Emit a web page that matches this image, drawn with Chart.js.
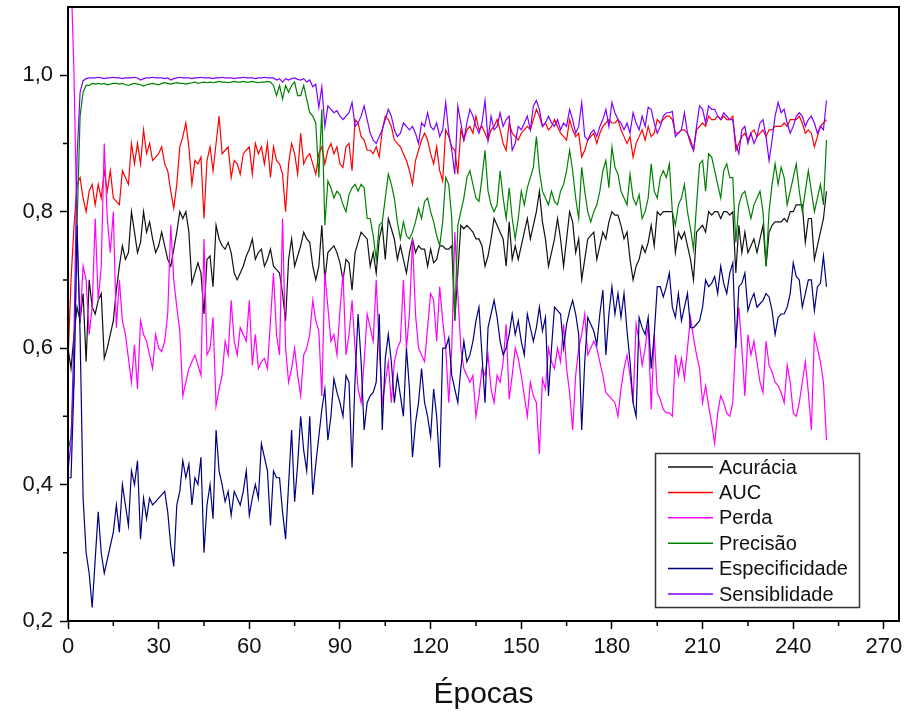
<!DOCTYPE html>
<html>
<head>
<meta charset="utf-8">
<title>Métricas por época</title>
<script src="https://cdn.jsdelivr.net/npm/chart.js@4.4.1/dist/chart.umd.min.js"></script>
<style>
  html, body { margin: 0; padding: 0; background: #fff; }
  canvas { display: block; }
</style>
</head>
<body>
<canvas id="chart" width="907" height="715"></canvas>
<script>
// Values, one per epoch (0..251)
const acuracia = [0.60,0.57,0.62,0.66,0.64,0.68,0.58,0.70,0.66,0.65,
  0.67,0.68,0.585,0.60,0.62,0.64,0.685,0.72,0.75,0.73,
  0.74,0.80,0.77,0.74,0.755,0.80,0.77,0.785,0.76,0.74,
  0.75,0.77,0.75,0.73,0.72,0.745,0.77,0.80,0.79,0.80,
  0.77,0.695,0.71,0.725,0.71,0.65,0.73,0.735,0.69,0.78,
  0.76,0.75,0.745,0.755,0.74,0.71,0.70,0.71,0.72,0.735,
  0.745,0.76,0.73,0.74,0.745,0.72,0.73,0.745,0.72,0.715,
  0.71,0.68,0.64,0.73,0.76,0.72,0.735,0.75,0.77,0.76,
  0.755,0.72,0.70,0.72,0.78,0.70,0.74,0.745,0.75,0.74,
  0.725,0.70,0.73,0.725,0.685,0.74,0.755,0.77,0.765,0.76,
  0.72,0.74,0.71,0.76,0.78,0.73,0.79,0.775,0.76,0.73,
  0.75,0.73,0.71,0.74,0.76,0.74,0.75,0.745,0.745,0.72,
  0.745,0.725,0.73,0.75,0.75,0.745,0.745,0.75,0.64,0.71,
  0.78,0.775,0.78,0.775,0.77,0.76,0.76,0.75,0.72,0.735,
  0.76,0.79,0.78,0.77,0.76,0.72,0.785,0.73,0.75,0.73,
  0.75,0.77,0.79,0.76,0.78,0.80,0.83,0.785,0.76,0.72,
  0.74,0.76,0.79,0.76,0.72,0.76,0.80,0.785,0.74,0.76,
  0.70,0.73,0.76,0.765,0.77,0.73,0.75,0.77,0.76,0.785,
  0.80,0.795,0.795,0.78,0.76,0.77,0.73,0.70,0.72,0.73,
  0.75,0.74,0.755,0.78,0.75,0.80,0.795,0.80,0.80,0.80,
  0.80,0.74,0.77,0.76,0.77,0.75,0.73,0.70,0.77,0.775,
  0.78,0.77,0.80,0.795,0.80,0.80,0.79,0.80,0.80,0.795,
  0.80,0.71,0.78,0.74,0.77,0.74,0.75,0.76,0.74,0.76,
  0.78,0.72,0.77,0.78,0.785,0.785,0.785,0.79,0.785,0.80,
  0.80,0.81,0.81,0.81,0.755,0.79,0.79,0.73,0.75,0.77,
  0.79,0.83];

const auc = [0.58,0.70,0.78,0.84,0.85,0.82,0.80,0.83,0.84,0.81,
  0.84,0.82,0.86,0.83,0.86,0.82,0.815,0.81,0.86,0.85,
  0.84,0.90,0.87,0.90,0.87,0.92,0.885,0.90,0.875,0.88,
  0.885,0.895,0.87,0.86,0.83,0.805,0.84,0.895,0.91,0.93,
  0.895,0.84,0.875,0.87,0.88,0.79,0.875,0.895,0.86,0.90,
  0.94,0.885,0.89,0.895,0.85,0.875,0.87,0.855,0.885,0.89,
  0.895,0.855,0.90,0.885,0.895,0.87,0.90,0.85,0.895,0.875,
  0.87,0.855,0.80,0.87,0.90,0.885,0.855,0.915,0.87,0.88,
  0.885,0.87,0.855,0.885,0.895,0.87,0.89,0.90,0.885,0.895,
  0.87,0.865,0.895,0.90,0.86,0.935,0.93,0.91,0.905,0.89,
  0.89,0.885,0.895,0.88,0.92,0.94,0.935,0.925,0.905,0.90,
  0.895,0.885,0.875,0.86,0.84,0.875,0.89,0.905,0.915,0.905,
  0.885,0.87,0.895,0.86,0.845,0.92,0.91,0.895,0.89,0.855,
  0.92,0.905,0.92,0.925,0.915,0.94,0.92,0.925,0.915,0.905,
  0.92,0.925,0.935,0.92,0.90,0.89,0.93,0.915,0.91,0.905,
  0.915,0.92,0.925,0.92,0.935,0.95,0.94,0.925,0.93,0.92,
  0.925,0.935,0.925,0.915,0.91,0.905,0.935,0.92,0.91,0.915,
  0.88,0.89,0.905,0.91,0.915,0.90,0.915,0.925,0.93,0.935,
  0.93,0.93,0.935,0.92,0.91,0.90,0.91,0.88,0.90,0.91,
  0.92,0.905,0.925,0.91,0.915,0.935,0.93,0.935,0.94,0.94,
  0.935,0.915,0.915,0.92,0.92,0.915,0.905,0.89,0.92,0.925,
  0.93,0.925,0.94,0.935,0.935,0.94,0.935,0.94,0.935,0.935,
  0.94,0.89,0.90,0.91,0.915,0.905,0.915,0.92,0.91,0.915,
  0.92,0.91,0.92,0.92,0.925,0.925,0.925,0.93,0.925,0.935,
  0.935,0.935,0.94,0.93,0.915,0.92,0.915,0.895,0.91,0.925,
  0.93,0.935];

const perda = [1.25,1.15,1.00,0.76,0.64,0.72,0.70,0.62,0.66,0.79,
  0.67,0.72,0.90,0.79,0.74,0.80,0.63,0.70,0.64,0.62,
  0.585,0.55,0.605,0.54,0.64,0.62,0.61,0.59,0.57,0.62,
  0.60,0.595,0.61,0.65,0.78,0.70,0.66,0.625,0.53,0.55,
  0.57,0.58,0.59,0.575,0.56,0.76,0.59,0.60,0.645,0.515,
  0.54,0.56,0.61,0.59,0.67,0.61,0.59,0.63,0.62,0.61,
  0.67,0.575,0.62,0.57,0.58,0.585,0.57,0.64,0.71,0.62,
  0.59,0.79,0.60,0.55,0.57,0.60,0.56,0.53,0.59,0.60,
  0.62,0.67,0.64,0.625,0.53,0.71,0.66,0.61,0.62,0.59,
  0.655,0.71,0.59,0.62,0.67,0.60,0.54,0.52,0.58,0.65,
  0.63,0.61,0.70,0.60,0.52,0.55,0.58,0.52,0.58,0.60,
  0.61,0.70,0.60,0.65,0.76,0.65,0.60,0.59,0.58,0.63,
  0.68,0.67,0.61,0.69,0.64,0.60,0.52,0.60,0.77,0.68,
  0.60,0.57,0.56,0.55,0.56,0.50,0.53,0.57,0.56,0.59,
  0.54,0.52,0.56,0.55,0.58,0.635,0.525,0.56,0.60,0.585,
  0.56,0.53,0.50,0.55,0.53,0.52,0.445,0.555,0.54,0.60,
  0.58,0.57,0.60,0.58,0.635,0.57,0.535,0.48,0.56,0.60,
  0.62,0.65,0.59,0.60,0.61,0.60,0.58,0.56,0.535,0.53,
  0.525,0.52,0.50,0.54,0.57,0.59,0.56,0.52,0.635,0.61,
  0.575,0.60,0.635,0.51,0.62,0.535,0.525,0.51,0.505,0.505,
  0.50,0.59,0.56,0.585,0.555,0.60,0.645,0.615,0.59,0.57,
  0.52,0.545,0.515,0.49,0.46,0.505,0.53,0.52,0.505,0.50,
  0.52,0.615,0.66,0.60,0.53,0.62,0.59,0.61,0.58,0.55,
  0.535,0.61,0.575,0.565,0.55,0.545,0.535,0.52,0.575,0.55,
  0.505,0.50,0.52,0.55,0.58,0.535,0.48,0.62,0.60,0.58,
  0.55,0.465];

const precisao = [0.45,0.47,0.56,0.78,0.94,0.975,0.985,0.985,0.988,0.987,
  0.988,0.987,0.988,0.986,0.987,0.988,0.988,0.987,0.988,0.986,
  0.985,0.987,0.988,0.987,0.986,0.984,0.986,0.987,0.988,0.987,
  0.986,0.988,0.989,0.988,0.987,0.988,0.989,0.988,0.988,0.987,
  0.988,0.989,0.990,0.988,0.989,0.990,0.989,0.990,0.989,0.990,
  0.991,0.990,0.990,0.989,0.990,0.991,0.990,0.990,0.991,0.990,
  0.990,0.991,0.990,0.989,0.990,0.990,0.991,0.990,0.985,0.97,
  0.985,0.965,0.985,0.975,0.985,0.99,0.97,0.97,0.985,0.965,
  0.945,0.94,0.93,0.85,0.95,0.78,0.845,0.835,0.82,0.83,
  0.825,0.81,0.80,0.825,0.835,0.84,0.83,0.84,0.835,0.79,
  0.79,0.765,0.73,0.78,0.785,0.82,0.855,0.84,0.82,0.785,
  0.76,0.785,0.765,0.76,0.77,0.785,0.805,0.79,0.815,0.82,
  0.80,0.785,0.765,0.75,0.785,0.85,0.84,0.79,0.64,0.78,
  0.80,0.82,0.85,0.86,0.84,0.82,0.815,0.85,0.89,0.83,
  0.81,0.80,0.81,0.86,0.82,0.79,0.835,0.79,0.76,0.79,
  0.83,0.81,0.835,0.85,0.865,0.91,0.86,0.83,0.82,0.81,
  0.83,0.815,0.81,0.83,0.84,0.86,0.89,0.86,0.82,0.79,
  0.865,0.83,0.80,0.785,0.80,0.81,0.83,0.86,0.875,0.835,
  0.895,0.865,0.855,0.83,0.82,0.81,0.855,0.82,0.81,0.825,
  0.79,0.80,0.82,0.87,0.83,0.82,0.85,0.86,0.85,0.87,
  0.80,0.78,0.81,0.82,0.84,0.80,0.775,0.745,0.81,0.87,
  0.875,0.83,0.885,0.88,0.86,0.84,0.82,0.86,0.87,0.85,
  0.85,0.755,0.81,0.825,0.83,0.81,0.79,0.81,0.82,0.83,
  0.80,0.72,0.80,0.84,0.87,0.84,0.865,0.85,0.81,0.83,
  0.85,0.87,0.83,0.80,0.83,0.86,0.83,0.80,0.82,0.84,
  0.81,0.905];

const especificidade = [0.41,0.41,0.55,0.78,0.62,0.38,0.30,0.27,0.22,0.29,
  0.36,0.30,0.27,0.29,0.31,0.33,0.37,0.33,0.40,0.37,
  0.34,0.42,0.40,0.435,0.32,0.38,0.35,0.38,0.37,0.375,
  0.38,0.385,0.39,0.36,0.31,0.28,0.37,0.39,0.435,0.41,
  0.43,0.37,0.41,0.40,0.44,0.30,0.37,0.40,0.35,0.48,
  0.42,0.40,0.375,0.39,0.355,0.39,0.38,0.37,0.39,0.42,
  0.355,0.38,0.40,0.38,0.46,0.44,0.42,0.34,0.42,0.41,
  0.41,0.36,0.32,0.40,0.48,0.375,0.43,0.50,0.45,0.42,
  0.50,0.385,0.43,0.47,0.51,0.54,0.465,0.50,0.555,0.535,
  0.52,0.50,0.56,0.55,0.425,0.555,0.65,0.58,0.48,0.52,
  0.53,0.535,0.55,0.65,0.48,0.585,0.62,0.58,0.52,0.56,
  0.53,0.50,0.60,0.54,0.44,0.49,0.52,0.57,0.52,0.50,
  0.47,0.54,0.50,0.425,0.60,0.60,0.615,0.56,0.54,0.52,
  0.57,0.61,0.58,0.59,0.61,0.64,0.66,0.59,0.52,0.63,
  0.65,0.67,0.645,0.61,0.59,0.60,0.62,0.65,0.62,0.64,
  0.61,0.59,0.65,0.63,0.61,0.63,0.66,0.625,0.645,0.53,
  0.60,0.66,0.655,0.65,0.60,0.635,0.655,0.67,0.65,0.62,
  0.48,0.58,0.645,0.635,0.625,0.605,0.65,0.685,0.59,0.65,
  0.69,0.65,0.68,0.645,0.68,0.625,0.58,0.52,0.50,0.645,
  0.63,0.62,0.645,0.57,0.62,0.69,0.69,0.675,0.69,0.71,
  0.66,0.645,0.68,0.64,0.66,0.68,0.63,0.63,0.635,0.64,
  0.66,0.70,0.69,0.695,0.705,0.68,0.72,0.695,0.68,0.71,
  0.725,0.60,0.69,0.695,0.71,0.655,0.67,0.68,0.66,0.665,
  0.67,0.68,0.675,0.655,0.62,0.645,0.65,0.65,0.66,0.68,
  0.725,0.705,0.70,0.66,0.68,0.70,0.70,0.655,0.69,0.695,
  0.735,0.69];

const sensiblidade = [0.42,0.46,0.62,0.88,0.975,0.992,0.995,0.996,0.996,0.996,
  0.997,0.996,0.995,0.996,0.996,0.997,0.996,0.996,0.995,0.996,
  0.996,0.996,0.997,0.996,0.993,0.995,0.996,0.996,0.997,0.996,
  0.996,0.996,0.995,0.996,0.993,0.995,0.996,0.997,0.996,0.996,
  0.996,0.995,0.996,0.996,0.997,0.996,0.996,0.996,0.995,0.996,
  0.996,0.997,0.996,0.996,0.996,0.995,0.996,0.996,0.997,0.996,
  0.996,0.996,0.995,0.996,0.996,0.997,0.996,0.996,0.996,0.993,
  0.995,0.99,0.995,0.993,0.995,0.996,0.994,0.993,0.995,0.99,
  0.993,0.983,0.987,0.953,0.983,0.925,0.955,0.95,0.945,0.948,
  0.94,0.935,0.94,0.945,0.96,0.925,0.93,0.94,0.955,0.935,
  0.915,0.905,0.90,0.91,0.92,0.935,0.95,0.94,0.92,0.91,
  0.915,0.93,0.925,0.92,0.925,0.915,0.90,0.93,0.925,0.945,
  0.925,0.92,0.93,0.91,0.92,0.96,0.915,0.89,0.855,0.955,
  0.93,0.905,0.93,0.95,0.94,0.925,0.915,0.93,0.963,0.905,
  0.94,0.92,0.925,0.945,0.925,0.935,0.94,0.89,0.90,0.925,
  0.92,0.93,0.94,0.92,0.955,0.963,0.95,0.925,0.93,0.94,
  0.93,0.925,0.935,0.92,0.93,0.925,0.95,0.935,0.915,0.925,
  0.96,0.91,0.905,0.915,0.92,0.91,0.925,0.935,0.95,0.925,
  0.96,0.945,0.935,0.93,0.92,0.93,0.915,0.945,0.93,0.92,
  0.94,0.925,0.953,0.95,0.93,0.915,0.925,0.94,0.945,0.945,
  0.947,0.91,0.915,0.92,0.945,0.915,0.90,0.89,0.925,0.955,
  0.95,0.93,0.955,0.95,0.95,0.94,0.935,0.945,0.94,0.935,
  0.935,0.90,0.885,0.92,0.925,0.90,0.915,0.90,0.91,0.93,
  0.935,0.91,0.875,0.905,0.94,0.96,0.945,0.95,0.93,0.915,
  0.925,0.94,0.945,0.94,0.925,0.935,0.94,0.93,0.915,0.925,
  0.92,0.963];

// Axis ticks
const xTicks = [0, 30, 60, 90, 120, 150, 180, 210, 240, 270];
const xMinorTicks = [15, 45, 75, 105, 135, 165, 195, 225, 255];
const yTicks = [0.2, 0.4, 0.6, 0.8, 1.0];
const yMinorTicks = [0.3, 0.5, 0.7, 0.9];

const FONT = "'Liberation Sans', Arial, sans-serif";
Chart.defaults.font.family = FONT;
Chart.defaults.color = '#111';

// Turn one series into {x, y} points, x being the epoch number
function toPoints(values) {
    return values.map((v, i) => ({ x: i, y: v }));
}

function series(label, values, color, order) {
    return {
        label: label,
        data: toPoints(values),
        borderColor: color,
        backgroundColor: color,
        borderWidth: 1.2,
        pointRadius: 0,
        tension: 0,
        order: order
    };
}

// Frame on top/right, minor ticks and the boxed legend
const framePlugin = {
    id: 'frame',
    afterDraw(chart) {
        const { ctx, chartArea: a, scales } = chart;
        ctx.save();
        ctx.strokeStyle = '#000';
        ctx.lineWidth = 2;
        ctx.strokeRect(a.left, a.top, a.right - a.left, a.bottom - a.top);

        ctx.lineWidth = 1.5;
        ctx.beginPath();
        xMinorTicks.forEach(v => {
            const px = scales.x.getPixelForValue(v);
            ctx.moveTo(px, a.bottom);
            ctx.lineTo(px, a.bottom + 5);
        });
        yMinorTicks.forEach(v => {
            const py = scales.y.getPixelForValue(v);
            ctx.moveTo(a.left, py);
            ctx.lineTo(a.left - 5, py);
        });
        ctx.stroke();

        // legend box
        const box = { x: 655.5, y: 453.5, w: 204, h: 154 };
        ctx.fillStyle = '#fff';
        ctx.fillRect(box.x, box.y, box.w, box.h);
        ctx.strokeStyle = '#333';
        ctx.lineWidth = 1.5;
        ctx.strokeRect(box.x, box.y, box.w, box.h);

        ctx.font = '20px ' + FONT;
        ctx.textBaseline = 'middle';
        ctx.textAlign = 'left';
        chart.data.datasets.forEach((ds, i) => {
            const rowY = 467 + i * 25.4;
            ctx.strokeStyle = ds.borderColor;
            ctx.lineWidth = 1.5;
            ctx.beginPath();
            ctx.moveTo(668, rowY);
            ctx.lineTo(713, rowY);
            ctx.stroke();
            ctx.fillStyle = '#111';
            ctx.fillText(ds.label, 719, rowY + 1);
        });
        ctx.restore();
    }
};

new Chart(document.getElementById('chart'), {
    type: 'line',
    data: {
        datasets: [
            series('Acurácia', acuracia, '#111111', 6),
            series('AUC', auc, '#ff0000', 5),
            series('Perda', perda, '#ff00ff', 4),
            series('Precisão', precisao, '#008000', 3),
            series('Especificidade', especificidade, '#000080', 2),
            series('Sensiblidade', sensiblidade, '#8000ff', 1)
        ]
    },
    options: {
        responsive: false,
        animation: false,
        layout: { padding: { top: 7, right: 8, left: 0, bottom: 0 } },
        plugins: {
            legend: { display: false },
            tooltip: { enabled: false }
        },
        scales: {
            x: {
                type: 'linear',
                min: 0,
                max: 275,
                afterBuildTicks: s => { s.ticks = xTicks.map(v => ({ value: v })); },
                afterFit: s => { s.height = 94; s.paddingLeft = 0; s.paddingRight = 0; },
                grid: { drawOnChartArea: false, drawTicks: true, tickLength: 8, tickColor: '#000', tickWidth: 1.5 },
                border: { display: true, color: '#000', width: 2 },
                ticks: {
                    padding: 5,
                    maxRotation: 0,
                    font: { size: 22 },
                    color: '#111',
                    callback: v => String(v)
                },
                title: {
                    display: true,
                    text: 'Épocas',
                    font: { size: 30 },
                    color: '#111',
                    padding: { top: 0, bottom: 2 }
                }
            },
            y: {
                min: 0.2,
                max: 1.1,
                afterBuildTicks: s => { s.ticks = yTicks.map(v => ({ value: v })); },
                afterFit: s => { s.width = 68; s.paddingTop = 0; s.paddingBottom = 0; },
                grid: { drawOnChartArea: false, drawTicks: true, tickLength: 8, tickColor: '#000', tickWidth: 1.5 },
                border: { display: true, color: '#000', width: 2 },
                ticks: {
                    padding: 7,
                    font: { size: 22 },
                    color: '#111',
                    callback: v => v.toFixed(1).replace('.', ',')
                }
            }
        }
    },
    plugins: [framePlugin]
});
</script>
</body>
</html>
